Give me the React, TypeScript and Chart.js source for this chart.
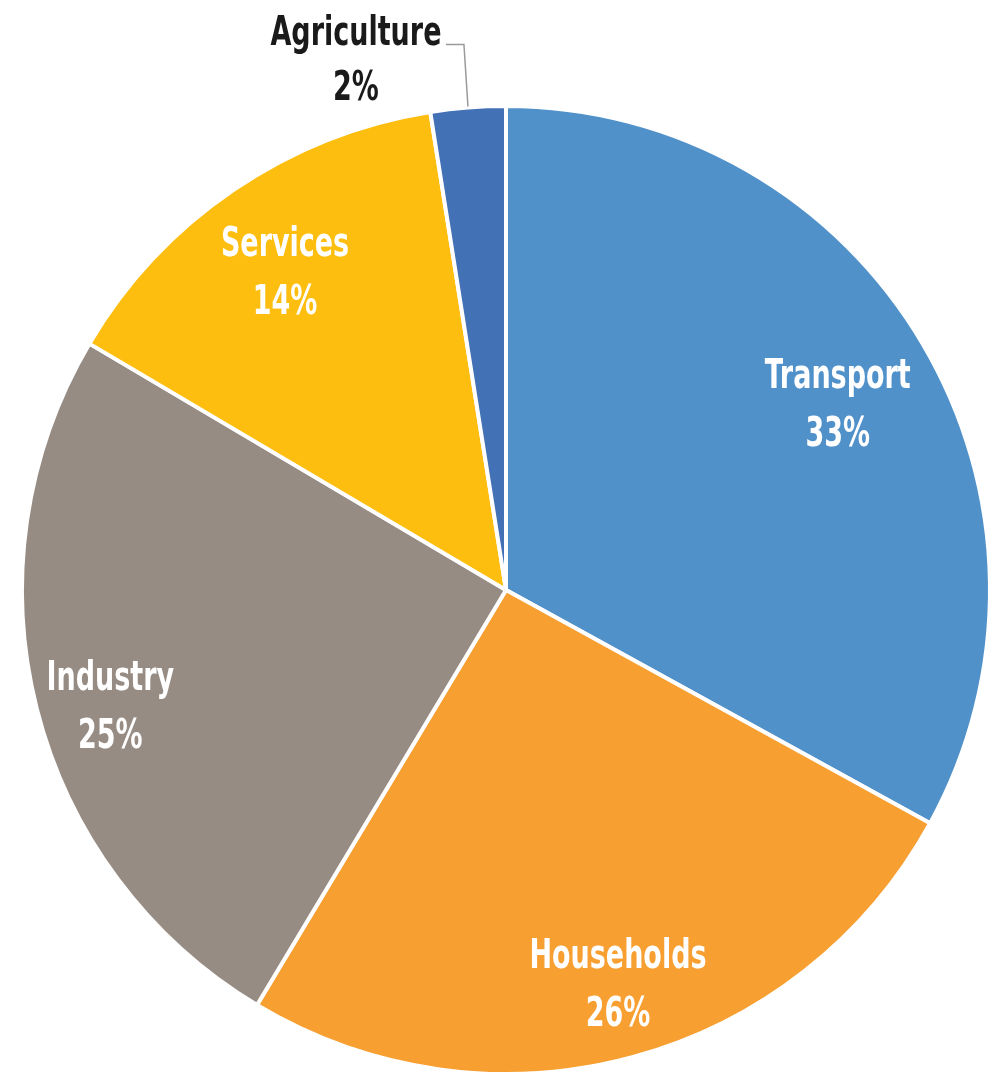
import React, { useEffect, useRef } from "react";
import { Chart, registerables } from "chart.js";

Chart.register(...registerables);

const categories = ["Transport", "Households", "Industry", "Services", "Agriculture"];
const shares = [33.0, 25.6, 24.9, 14.0, 2.5];
const shareLabels = ["33%", "26%", "25%", "14%", "2%"];
const colors = ["#5191C9", "#F79F31", "#978C84", "#FDBE10", "#4371B6"];
const labelRadiusFraction = [0.786, 0.846, 0.852, 0.8, 0];
const labelAngleShiftDeg = [1.3, -0.75, -2.1, -0.6, 0];
const insideLabel = [true, true, true, true, false];

const FONT = "bold 40px 'DejaVu Sans Condensed', 'DejaVu Sans', sans-serif";
const SCALE_X = 0.75;

function condensedText(ctx: CanvasRenderingContext2D, text: string, x: number, y: number) {
  ctx.save();
  ctx.translate(x, y);
  ctx.scale(SCALE_X, 1);
  ctx.fillText(text, 0, 0);
  ctx.restore();
}

const labelPlugin = {
  id: "sliceLabels",
  afterDatasetsDraw(chart: any) {
    const ctx = chart.ctx;
    const meta = chart.getDatasetMeta(0);
    ctx.save();
    ctx.font = FONT;
    ctx.textAlign = "center";
    ctx.textBaseline = "middle";
    meta.data.forEach((arc: any, i: number) => {
      const { x, y, startAngle, endAngle, outerRadius } = arc.getProps(
        ["x", "y", "startAngle", "endAngle", "outerRadius"],
        true
      );
      const mid = (startAngle + endAngle) / 2;
      if (insideLabel[i]) {
        const a = mid + (labelAngleShiftDeg[i] * Math.PI) / 180;
        const r = outerRadius * labelRadiusFraction[i];
        const cx = x + Math.cos(a) * r;
        const cy = y + Math.sin(a) * r + 3;
        ctx.fillStyle = "#ffffff";
        condensedText(ctx, categories[i], cx, cy - 29);
        condensedText(ctx, shareLabels[i], cx, cy + 29);
      } else {
        const ex = x + Math.cos(mid) * (outerRadius + 1);
        const ey = y + Math.sin(mid) * (outerRadius + 1);
        const topY = ey - 62;
        const leftX = ex - 22;
        ctx.strokeStyle = "#9a9a9a";
        ctx.lineWidth = 1.5;
        ctx.beginPath();
        ctx.moveTo(ex, ey);
        ctx.lineTo(ex - 4, topY);
        ctx.lineTo(leftX, topY);
        ctx.stroke();
        ctx.fillStyle = "#1a1a1a";
        const tx = leftX - 90;
        condensedText(ctx, categories[i], tx, topY - 10);
        condensedText(ctx, shareLabels[i], tx, topY + 45);
      }
    });
    ctx.restore();
  },
};

export default function App() {
  const ref = useRef<HTMLCanvasElement | null>(null);
  useEffect(() => {
    if (!ref.current) return;
    const chart = new Chart(ref.current, {
      type: "pie",
      data: {
        labels: categories,
        datasets: [
          {
            data: shares,
            backgroundColor: colors,
            borderColor: "#ffffff",
            borderWidth: 4,
          },
        ],
      },
      options: {
        animation: false,
        responsive: false,
        maintainAspectRatio: false,
        layout: { padding: { left: 20, right: 8, top: 104, bottom: 5 } },
        plugins: {
          legend: { display: false },
          tooltip: { enabled: false },
        },
      },
      plugins: [labelPlugin],
    });
    return () => chart.destroy();
  }, []);
  return (
    <div style={{ position: "absolute", left: 0, top: 0, width: 1000, height: 1081, background: "#ffffff" }}>
      <canvas ref={ref} width={1000} height={1081} style={{ width: 1000, height: 1081 }} />
    </div>
  );
}
